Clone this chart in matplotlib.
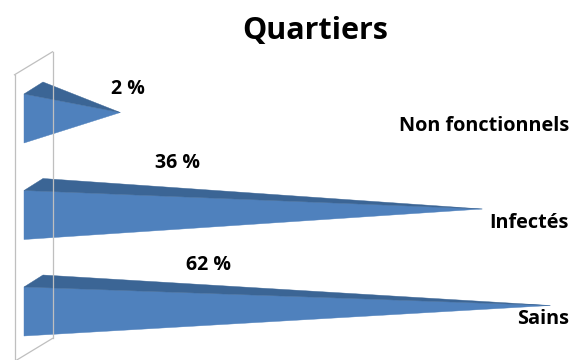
import numpy as np
import matplotlib
matplotlib.use("Agg")
import matplotlib.pyplot as plt
from matplotlib.patches import Polygon
from matplotlib.lines import Line2D

# data (top to bottom in the chart)
CATEGORIES = ["Non fonctionnels", "Infectés", "Sains"]
VALUES = [2, 36, 62]
VALUE_LABELS = ["2 %", "36 %", "62 %"]
TITLE = "Quartiers"

FRONT_COL = "#4F81BD"
TOP_COL = "#3B6595"
WALL_COL = "#BFBFBF"
FONT = ["Open Sans", "DejaVu Sans"]

W, H, DPI = 572, 360, 100
fig = plt.figure(figsize=(W / DPI, H / DPI), dpi=DPI)
# log value axis starting at 1, ~288 px per decade
ax = fig.add_axes([33.5 / W, 6.25 / H, 532 / W, 289.5 / H])
ax.set_xscale("log")
ax.set_xlim(1, 70)
ax.set_ylim(-0.5, 2.5)
ax.axis("off")

ypos = np.arange(len(CATEGORIES))[::-1]  # first category on top

# back wall (category plane at value = 1), drawn in pixels around its centre line
top_c = ax.transData.transform((1, 2.51))
bot_c = ax.transData.transform((1, -0.46))
wd = np.array([19, 11.5])
ft, bt = top_c - wd, top_c + wd
fb, bb = bot_c - wd, bot_c + wd
for p, q in [(ft, fb), (bt, bb), (ft, bt), (fb, bb)]:
    fig.add_artist(Line2D([p[0], q[0]], [p[1], q[1]], transform=None,
                          color=WALL_COL, lw=0.9))

# pyramids
for y, v in zip(ypos, VALUES):
    c = ax.transData.transform((1, y))
    apex = ax.transData.transform((v, y))
    f_top = c + np.array([-9.5, 18.5])
    f_bot = c + np.array([-9.5, -30.5])
    b_top = c + np.array([9.5, 30.5])
    fig.add_artist(Polygon([f_top, f_bot, apex], closed=True, transform=None,
                           facecolor=FRONT_COL, edgecolor=FRONT_COL, lw=0.3))
    fig.add_artist(Polygon([f_top, b_top, apex], closed=True, transform=None,
                           facecolor=TOP_COL, edgecolor=TOP_COL, lw=0.3))

# value labels (placement as in the original)
LABEL_X = [2.13, 3.17, 4.03]
LABEL_DY = [24, 46, 40.5]  # px above the pyramid axis
for y, lx, dy, txt in zip(ypos, LABEL_X, LABEL_DY, VALUE_LABELS):
    ax.annotate(txt, (lx, y), xytext=(0, dy * 72 / DPI), textcoords="offset points",
                ha="center", va="center", fontsize=14, fontweight="bold",
                family=FONT, annotation_clip=False)

# category labels, right-aligned at the right edge
for y, cat in zip(ypos, CATEGORIES):
    ax.annotate(cat, (569 / W, y), xycoords=("figure fraction", "data"),
                xytext=(0, -13.5 * 72 / DPI), textcoords="offset points",
                ha="right", va="center", fontsize=14.3, fontweight="bold",
                family=FONT, annotation_clip=False)

fig.text(315 / W, 1 - 31 / H, TITLE, ha="center", va="center",
         fontsize=22, fontweight="bold", family=FONT)

fig.savefig("out.png", dpi=DPI)
